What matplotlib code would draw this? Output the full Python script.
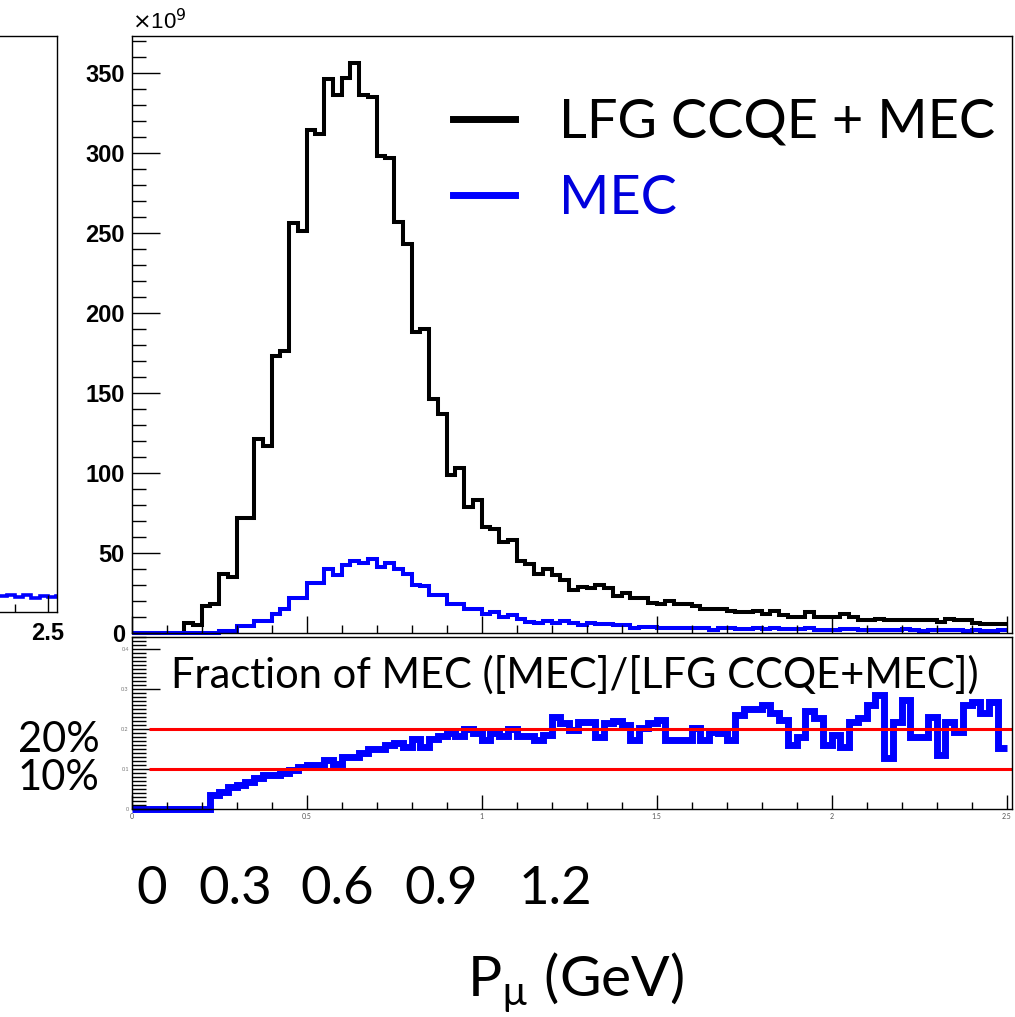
import numpy as np
import matplotlib.pyplot as plt
from matplotlib.ticker import MultipleLocator, FormatStrFormatter

plt.rcParams['font.family'] = ['Lato', 'DejaVu Sans']

# muon momentum bins, 0.025 GeV wide
edges = np.linspace(0.0, 2.5, 101)

# events per bin (x1e9)
lfg_ccqe_mec = [0, 0, 0, 0, 0, 0, 6, 5, 17, 18,
                37, 35, 72, 72, 121, 117, 173, 176, 256, 251,
                314, 312, 346, 336, 347, 356, 336, 335, 298, 297,
                257, 243, 188, 190, 146, 137, 99, 103, 79, 83,
                66, 65, 57, 58, 45, 43, 37, 40, 36, 33,
                27, 29, 28, 30, 28, 23, 25, 22, 22, 19,
                18, 20, 18, 18, 17, 15, 15, 15, 14, 13,
                13, 14, 12, 14, 11, 10, 10, 13, 10, 10,
                10, 12, 10, 8, 8, 9, 8, 8, 8, 8,
                8, 8, 7, 8.5, 8, 8, 6.5, 5.5, 5.5, 5.5]

mec = [0, 0, 0, 0, 0, 0, 0, 0, 0, 0,
       1.5, 1.5, 4.4, 4.4, 7.5, 7.5, 11.7, 14.8, 22, 22,
       31, 31, 40, 36, 42.5, 45, 43.5, 46, 41, 43.5,
       40, 37, 30, 29.6, 24, 24, 18, 18, 15, 15,
       11.7, 12.9, 9.8, 11.2, 8.5, 7.1, 6, 7.7, 6.5, 7.7,
       6, 5, 6.5, 5.4, 5.4, 5, 5, 3.3, 4, 4,
       3, 3, 3, 3, 2.9, 2.9, 1.9, 2.9, 3.0, 2.6,
       2.6, 3.0, 2.6, 3.2, 2.4, 2.4, 2.4, 3.0, 2.0, 2.0,
       2.0, 2.6, 2.2, 1.6, 1.6, 2.0, 1.8, 1.8, 2.2, 1.6,
       1.2, 2.0, 1.6, 1.8, 1.8, 1.4, 1.6, 1.4, 1.5, 1.6]

# [MEC]/[LFG CCQE+MEC]
mec_fraction = [0, 0, 0, 0, 0, 0, 0, 0, 0, 0.035,
                0.043, 0.054, 0.06, 0.068, 0.077, 0.085, 0.085, 0.089, 0.097, 0.104,
                0.11, 0.11, 0.122, 0.112, 0.131, 0.131, 0.139, 0.149, 0.149, 0.16,
                0.166, 0.156, 0.174, 0.156, 0.174, 0.182, 0.19, 0.182, 0.2, 0.19,
                0.172, 0.19, 0.182, 0.2, 0.182, 0.182, 0.172, 0.185, 0.23, 0.215,
                0.197, 0.218, 0.218, 0.181, 0.214, 0.22, 0.21, 0.1725, 0.202, 0.214,
                0.2225, 0.1725, 0.1725, 0.1725, 0.202, 0.1725, 0.193, 0.191, 0.1725, 0.235,
                0.249, 0.249, 0.26, 0.239, 0.2225, 0.16, 0.181, 0.246, 0.227, 0.16,
                0.185, 0.156, 0.218, 0.227, 0.26, 0.285, 0.127, 0.218, 0.2725, 0.181,
                0.181, 0.231, 0.135, 0.218, 0.193, 0.26, 0.268, 0.239, 0.268, 0.152]
ref_levels = [0.1, 0.2]

# cut-off neighbouring panel on the left
left_edges = np.linspace(2.3, 2.55, 11)
left_mec = [2.6, 2.7, 2.5, 2.6, 2.3, 2.6, 2.2, 2.5, 2.4, 2.5]

overlay_ticks = ['0', '0.3', '0.6', '0.9', '1.2']

W, H = 1015.0, 1017.0
fig = plt.figure(figsize=(W / 100, H / 100), dpi=100)


def box(x0, y0, x1, y1):
    return [x0 / W, 1 - y1 / H, (x1 - x0) / W, (y1 - y0) / H]


def root_style(a, lw=1.0):
    for s in a.spines.values():
        s.set_linewidth(lw)
    a.tick_params(which='both', direction='in', top=False, right=False, width=1.0)


bold = dict(family='Liberation Sans', weight='bold')

# left partial panel
lax = fig.add_axes(box(0, 36, 57, 612))
lax.stairs(left_mec, left_edges, color='#0000ff', lw=2.6, baseline=None)
lax.set_xlim(2.355, 2.527)
lax.set_ylim(0, 90)
lax.spines['left'].set_visible(False)
root_style(lax)
lax.set_xticks([2.5])
lax.xaxis.set_minor_locator(MultipleLocator(0.1))
lax.tick_params(axis='x', which='major', length=12, pad=7, labelsize=17)
lax.tick_params(axis='x', which='minor', length=6)
lax.set_yticks([])
for t in lax.get_xticklabels():
    t.set_fontproperties(bold)
    t.set_fontsize(17)

# main panel
ax = fig.add_axes(box(131.7, 36, 1012, 633))
ax.stairs(lfg_ccqe_mec, edges, color='black', lw=2.9, baseline=None,
          label='LFG CCQE + MEC', clip_on=False)
ax.stairs(mec, edges, color='#0000ff', lw=2.9, baseline=None,
          label='MEC', clip_on=False)
ax.set_xlim(0, 2.515)
ax.set_ylim(0, 373)
root_style(ax)
ax.yaxis.set_major_locator(MultipleLocator(50))
ax.yaxis.set_minor_locator(MultipleLocator(10))
ax.xaxis.set_major_locator(MultipleLocator(0.5))
ax.xaxis.set_minor_locator(MultipleLocator(0.1))
ax.tick_params(axis='y', which='major', length=20, pad=5)
ax.tick_params(axis='y', which='minor', length=10)
ax.tick_params(axis='x', which='major', length=12, labelbottom=False)
ax.tick_params(axis='x', which='minor', length=6)
for t in ax.get_yticklabels():
    t.set_fontproperties(bold)
    t.set_fontsize(17)
ax.text(0.0, 1.003, r'$\times$10$^{9}$', transform=ax.transAxes,
        fontsize=16, family='Liberation Sans', va='bottom', ha='left')

leg = ax.legend(loc='upper left', bbox_to_anchor=(0.365, 0.897), frameon=False,
                fontsize=39, handlelength=1.15, handletextpad=0.8, labelspacing=0.5,
                borderpad=0, borderaxespad=0)
for h in leg.legend_handles:
    h.set_linewidth(5)
leg.get_texts()[1].set_color('#0000dd')

# fraction panel
rax = fig.add_axes(box(131.7, 637, 1012, 809))
rax.stairs(mec_fraction, edges, color='#0000ff', lw=5, baseline=None, clip_on=False)
rax.hlines(ref_levels, 0.05, 2.515, colors='#ff0000', lw=2.2)
rax.set_xlim(0, 2.515)
rax.set_ylim(0, 0.43)
root_style(rax)
rax.yaxis.set_major_locator(MultipleLocator(0.1))
rax.yaxis.set_minor_locator(MultipleLocator(0.01))
rax.xaxis.set_major_locator(MultipleLocator(0.5))
rax.xaxis.set_minor_locator(MultipleLocator(0.1))
rax.xaxis.set_major_formatter(FormatStrFormatter('%g'))
rax.yaxis.set_major_formatter(FormatStrFormatter('%g'))
rax.tick_params(axis='y', which='major', length=20, labelsize=4, labelcolor='#777777', pad=2)
rax.tick_params(axis='y', which='minor', length=10)
rax.tick_params(axis='x', which='major', length=10, labelsize=5, labelcolor='#555555', pad=3)
rax.tick_params(axis='x', which='minor', length=5)
rax.text(0.045, 0.78, 'Fraction of MEC ([MEC]/[LFG CCQE+MEC])', transform=rax.transAxes,
         fontsize=30, va='center', ha='left')

# pasted labels
fig.text(18 / W, 1 - 740 / H, '20%', fontsize=30, va='center', ha='left')
fig.text(18 / W, 1 - 778 / H, '10%', fontsize=30, va='center', ha='left')
for lbl, xc in zip(overlay_ticks, [152, 235, 337, 441, 555]):
    fig.text(xc / W, 1 - 890 / H, lbl, fontsize=38, va='center', ha='center')
fig.text(575 / W, 1 - 983 / H, r'P$_\mathregular{µ}$ (GeV)', fontsize=41, va='center', ha='center')

fig.savefig('out.png', dpi=100)
